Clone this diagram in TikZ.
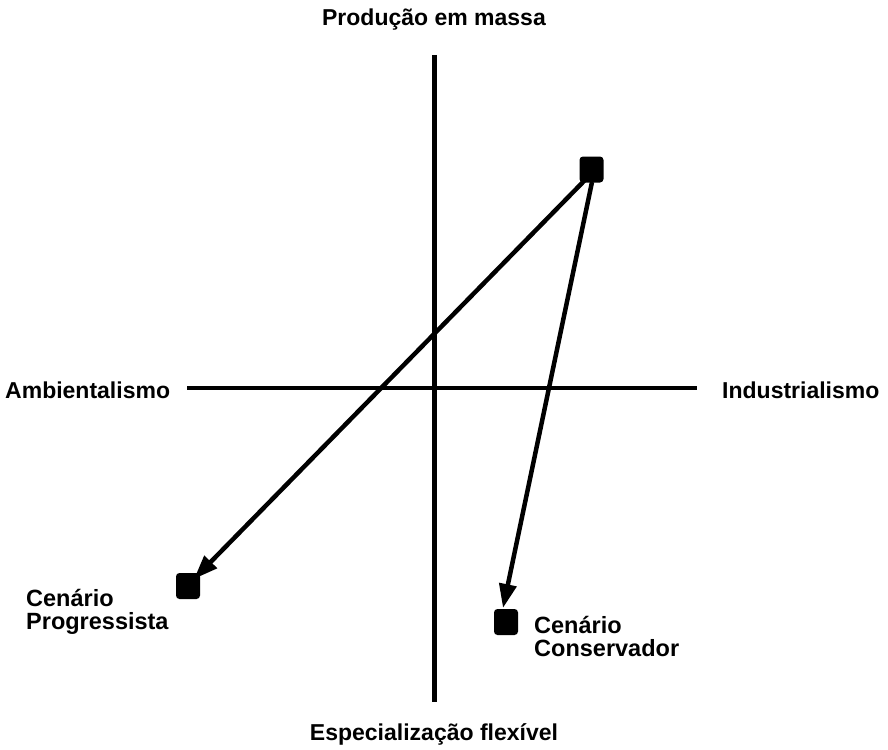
\documentclass[tikz,border=0pt]{standalone}
\usepackage{fontspec}
\setmainfont{Liberation Sans}
\usetikzlibrary{arrows.meta}
\begin{document}
\begin{tikzpicture}[x=1pt,y=-1pt,
  axis/.style={line width=4.5pt},
  arr/.style={line width=4.5pt,-{Triangle[length=24pt,width=17pt]}},
  sq/.style={fill=black,rounded corners=3.5pt,minimum width=24pt,minimum height=26pt,inner sep=0pt},
  lbl/.style={font=\bfseries\fontsize{23}{24}\selectfont,inner sep=0pt},
  lbl2/.style={font=\bfseries\fontsize{23.5}{23.5}\selectfont,inner sep=0pt,align=left}]
\useasboundingbox (0,0) rectangle (888,749);
% axes
\coordinate (vt) at (434.5,55);
\coordinate (vb) at (434.5,702);
\coordinate (hl) at (187,388);
\coordinate (hr) at (697,388);
\draw[axis] (vt) -- (vb);
\draw[axis] (hl) -- (hr);
% labels
\node[lbl,anchor=base] (top) at (434,26) {Produção em massa};
\node[lbl,anchor=base] (bot) at (434,740) {Especialização flexível};
\node[lbl,anchor=base west] (left) at (5,398) {Ambientalismo};
\node[lbl,anchor=base west] (right) at (722,398) {Industrialismo};
% squares
\node[sq] (s0) at (591.5,169.5) {};
\node[sq] (s1) at (188,586) {};
\node[sq] (s2) at (506,622) {};
% arrows
\coordinate (a0) at (585,180);
\coordinate (a1) at (194,579);
\coordinate (b0) at (592,182);
\coordinate (b1) at (503,608);
\draw[arr] (a0) -- (a1);
\draw[arr] (b0) -- (b1);
% scenario labels
\node[lbl2,anchor=north west] (p) at (26,589) {Cenário\\Progressista};
\node[lbl2,anchor=north west] (c) at (534,616) {Cenário\\Conservador};
\end{tikzpicture}
\end{document}
